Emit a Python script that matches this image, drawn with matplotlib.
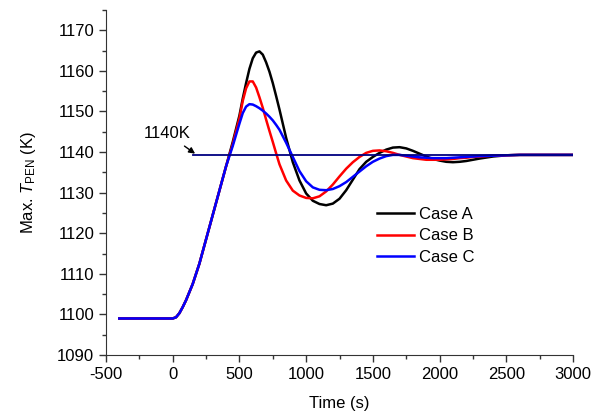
import matplotlib
matplotlib.use("Agg")
import matplotlib.pyplot as plt
from matplotlib.ticker import MultipleLocator

plt.rcParams["font.family"] = "Liberation Sans"
plt.rcParams["mathtext.fontset"] = "custom"
plt.rcParams["mathtext.rm"] = "Liberation Sans"
plt.rcParams["mathtext.it"] = "Liberation Sans:italic"
plt.rcParams["axes.unicode_minus"] = False

# time grid (s)
time_s = [-400, -200, 0, 25, 50, 75, 100, 150, 200, 250, 300, 350, 400,
          450, 500, 525, 550, 575, 600, 625, 650, 675, 700, 725, 750, 775,
          800, 850, 900, 950, 1000, 1050, 1100, 1150, 1200, 1250, 1300,
          1350, 1400, 1450, 1500, 1550, 1600, 1650, 1700, 1750, 1800, 1850,
          1900, 1950, 2000, 2050, 2100, 2150, 2200, 2250, 2300, 2400, 2500,
          2600, 2700, 2800, 2900, 3000]

# common heat-up part (-400 .. 400 s)
rise = [1099, 1099, 1099, 1099.3, 1100.3, 1101.8, 1103.5, 1107.5, 1112.5,
        1118.5, 1124.5, 1130.5, 1136.5]

case_a = rise + [1142.5, 1149, 1153.2, 1157, 1160.5, 1163.1, 1164.5, 1164.8,
                 1164, 1162.1, 1159.8, 1157, 1153.8, 1150.5,
                 1143.5, 1137.5, 1133, 1129.8, 1128, 1127.2, 1126.9, 1127.3,
                 1128.5, 1130.6, 1133.2, 1135.8, 1137.6, 1138.8, 1139.8,
                 1140.6, 1141.1, 1141.2, 1140.9, 1140.3, 1139.6, 1138.9,
                 1138.3, 1137.9, 1137.6, 1137.5, 1137.6, 1137.8, 1138.1,
                 1138.4, 1138.9, 1139.2, 1139.3, 1139.3, 1139.3, 1139.3,
                 1139.3]

case_b = rise + [1142, 1148.3, 1152.6, 1155.7, 1157.4, 1157.4, 1155.9,
                 1153.5, 1150.9, 1148, 1145.2, 1142.5, 1139.7, 1137,
                 1133, 1130.5, 1129.3, 1128.7, 1128.6, 1129.1, 1130.3, 1132,
                 1134, 1135.9, 1137.5, 1138.8, 1139.8, 1140.3, 1140.4,
                 1140.2, 1139.8, 1139.3, 1138.9, 1138.5, 1138.3, 1138.1,
                 1138.1, 1138.1, 1138.2, 1138.3, 1138.5, 1138.6, 1138.8,
                 1138.9, 1139.1, 1139.2, 1139.3, 1139.3, 1139.3, 1139.3,
                 1139.3]

case_c = rise + [1141.5, 1147, 1149.6, 1151.2, 1151.8, 1151.7, 1151.3,
                 1150.8, 1150.2, 1149.5, 1148.7, 1147.8, 1146.7, 1145.5,
                 1142.3, 1138.8, 1135.3, 1132.8, 1131.3, 1130.7,
                 1130.6, 1130.9, 1131.6, 1132.6, 1133.9, 1135.2, 1136.5,
                 1137.6, 1138.4, 1139, 1139.3, 1139.3, 1139.1, 1138.9,
                 1138.7, 1138.6, 1138.5, 1138.5, 1138.5, 1138.6, 1138.7,
                 1138.8, 1138.9, 1139, 1139.1, 1139.2, 1139.3, 1139.3,
                 1139.3, 1139.3, 1139.3]

limit_k = 1139.2
limit_span = [150, 3000]

fig = plt.figure(figsize=(5.92, 4.16), dpi=100)
ax = fig.add_axes([0.179, 0.1466, 0.789, 0.8294])

ax.plot(limit_span, [limit_k, limit_k], color="#000080", lw=1.3, zorder=4)
ax.plot(time_s, case_a, color="black", lw=1.8, label="Case A")
ax.plot(time_s, case_b, color="red", lw=1.8, label="Case B")
ax.plot(time_s, case_c, color="blue", lw=1.8, label="Case C")

ax.annotate("1140K", xy=(168, 1139.6), xytext=(-45, 1144.6),
            ha="center", va="center", fontsize=12,
            arrowprops=dict(arrowstyle="-|>", color="black", lw=1,
                            mutation_scale=9, shrinkA=3, shrinkB=0))

ax.set_xlim(-500, 3000)
ax.set_ylim(1090, 1175)
ax.xaxis.set_major_locator(MultipleLocator(500))
ax.xaxis.set_minor_locator(MultipleLocator(250))
ax.yaxis.set_major_locator(MultipleLocator(10))
ax.yaxis.set_minor_locator(MultipleLocator(5))
ax.tick_params(which="major", direction="out", length=5, width=1,
               labelsize=12, color="#333333")
ax.tick_params(which="minor", direction="out", length=3, width=1,
               color="#333333")
ax.spines[["top", "right"]].set_visible(False)
for side in ["left", "bottom"]:
    ax.spines[side].set_color("#333333")

ax.set_xlabel("Time (s)", fontsize=12, labelpad=10)
ax.set_ylabel(r"Max. $\mathit{T}_{\mathrm{PEN}}$ (K)", fontsize=12,
              labelpad=14)

ax.legend(loc="upper left", bbox_to_anchor=(0.567, 0.448), frameon=False,
          fontsize=12, handlelength=2.2, handletextpad=0.3,
          labelspacing=0.38, borderaxespad=0)

fig.savefig("out.png", dpi=100)
